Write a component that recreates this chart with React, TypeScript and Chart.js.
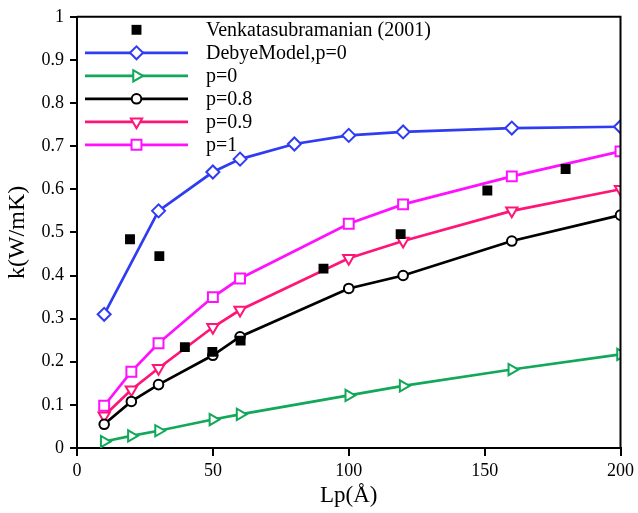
import React, { useEffect, useRef } from 'react';
import { Chart, registerables } from 'chart.js';
import { drawPoint } from 'chart.js/helpers';

Chart.register(...registerables);

const FONT = '"Liberation Serif", "Times New Roman", serif';

const xDebye = [10, 30, 50, 60, 80, 100, 120, 160, 200];
const kDebye = [0.31, 0.55, 0.64, 0.67, 0.705, 0.725, 0.733, 0.742, 0.745];

const xModel = [10, 20, 30, 50, 60, 100, 120, 160, 200];
const kP0 = [0.015, 0.028, 0.04, 0.066, 0.078, 0.122, 0.144, 0.182, 0.217];
const kP08 = [0.055, 0.108, 0.147, 0.215, 0.258, 0.37, 0.4, 0.48, 0.54];
const kP09 = [0.075, 0.135, 0.185, 0.28, 0.32, 0.44, 0.48, 0.55, 0.6];
const kP1 = [0.098, 0.177, 0.243, 0.35, 0.393, 0.52, 0.565, 0.63, 0.688];

const xExp = [19.5, 30.3, 39.7, 49.8, 60.2, 90.7, 119.1, 151, 179.8];
const kExp = [0.484, 0.445, 0.234, 0.223, 0.249, 0.416, 0.496, 0.597, 0.647];

const seriesLabels = ['Venkatasubramanian (2001)', 'DebyeModel,p=0', 'p=0', 'p=0.8', 'p=0.9', 'p=1'];
const xTickValues = [0, 50, 100, 150, 200];
const yTickValues = [0, 0.1, 0.2, 0.3, 0.4, 0.5, 0.6, 0.7, 0.8, 0.9, 1];
const yTickLabels = ['0', '0.1', '0.2', '0.3', '0.4', '0.5', '0.6', '0.7', '0.8', '0.9', '1'];

const toPts = (xs: number[], ys: number[]) => xs.map((x, i) => ({ x, y: ys[i] }));

const legendPlugin = {
  id: 'customLegend',
  afterDraw(chart: any) {
    const ctx = chart.ctx;
    const area = chart.chartArea;
    const x0 = area.left + 8;
    const x1 = area.left + 111;
    const xm = (x0 + x1) / 2;
    const xt = area.left + 129;
    const top = area.top + 13;
    const step = 23;
    ctx.save();
    chart.data.datasets.forEach((ds: any, i: number) => {
      const y = top + i * step;
      if (ds.showLine !== false) {
        ctx.strokeStyle = ds.borderColor;
        ctx.lineWidth = ds.borderWidth;
        ctx.beginPath();
        ctx.moveTo(x0, y);
        ctx.lineTo(x1, y);
        ctx.stroke();
      }
      ctx.fillStyle = ds.pointBackgroundColor;
      ctx.strokeStyle = ds.pointBorderColor;
      ctx.lineWidth = ds.pointBorderWidth;
      drawPoint(ctx, { pointStyle: ds.pointStyle, rotation: ds.pointRotation || 0, radius: ds.pointRadius, borderWidth: ds.pointBorderWidth }, xm, y);
      ctx.fillStyle = '#000';
      ctx.font = `20px ${FONT}`;
      ctx.textBaseline = 'middle';
      ctx.textAlign = 'left';
      ctx.fillText(ds.label, xt, y + 1);
    });
    ctx.restore();
  },
};

const framePlugin = {
  id: 'frame',
  afterDatasetsDraw(chart: any) {
    const ctx = chart.ctx;
    const a = chart.chartArea;
    ctx.save();
    ctx.strokeStyle = '#000';
    ctx.lineWidth = 2;
    ctx.beginPath();
    ctx.moveTo(a.left, a.top);
    ctx.lineTo(a.right, a.top);
    ctx.lineTo(a.right, a.bottom);
    ctx.stroke();
    ctx.restore();
  },
};

function lineDs(label: string, data: any[], color: string, style: string, radius: number, rotation = 0) {
  return {
    label,
    data,
    borderColor: color,
    backgroundColor: color,
    borderWidth: 2.7,
    pointStyle: style,
    pointRotation: rotation,
    pointRadius: radius,
    pointBorderColor: color,
    pointBackgroundColor: '#fff',
    pointBorderWidth: 2,
    showLine: true,
    tension: 0,
  };
}

export default function App() {
  const ref = useRef<HTMLCanvasElement | null>(null);
  useEffect(() => {
    if (!ref.current) return;
    const tickFont = { size: 18, family: FONT };
    const chart = new Chart(ref.current, {
      type: 'scatter',
      data: {
        datasets: [
          {
            label: seriesLabels[0],
            data: toPts(xExp, kExp),
            showLine: false,
            pointStyle: 'rect',
            pointRadius: 7,
            pointBorderWidth: 0,
            pointBackgroundColor: '#000',
            pointBorderColor: '#000',
            borderColor: '#000',
            backgroundColor: '#000',
            borderWidth: 0,
          } as any,
          lineDs(seriesLabels[1], toPts(xDebye, kDebye), '#2f3cf2', 'rectRot', 6.5),
          lineDs(seriesLabels[2], toPts(xModel, kP0), '#12a85a', 'triangle', 6.5, 90),
          lineDs(seriesLabels[3], toPts(xModel, kP08), '#000000', 'circle', 4.8),
          lineDs(seriesLabels[4], toPts(xModel, kP09), '#ff1477', 'triangle', 6.5, 180),
          lineDs(seriesLabels[5], toPts(xModel, kP1), '#ff10ff', 'rect', 7),
        ],
      },
      options: {
        animation: false,
        responsive: false,
        maintainAspectRatio: false,
        layout: { padding: { top: 12, right: 14, left: 0, bottom: 0 } },
        plugins: { legend: { display: false }, tooltip: { enabled: false } },
        scales: {
          x: {
            type: 'linear',
            min: 0,
            max: 200,
            afterFit: (s: any) => { s.height = 65; },
            afterBuildTicks: (s: any) => { s.ticks = xTickValues.map((v) => ({ value: v })); },
            grid: { display: true, drawOnChartArea: false, drawTicks: true, tickLength: 8, color: '#000', lineWidth: 2 },
            border: { display: true, color: '#000', width: 2 },
            ticks: { font: tickFont, color: '#000', padding: 4, maxRotation: 0 },
            title: { display: true, text: 'Lp(Å)', font: { size: 23, family: FONT }, color: '#000', padding: { top: 0, bottom: 3 } },
          },
          y: {
            type: 'linear',
            min: 0,
            max: 1,
            afterFit: (s: any) => { s.width = 77; },
            afterBuildTicks: (s: any) => { s.ticks = yTickValues.map((v) => ({ value: v })); },
            grid: { display: true, drawOnChartArea: false, drawTicks: true, tickLength: 7, color: '#000', lineWidth: 2 },
            border: { display: true, color: '#000', width: 2 },
            ticks: {
              font: tickFont,
              color: '#000',
              padding: 6,
              callback: (v: any) => {
                const i = yTickValues.findIndex((t) => Math.abs(t - v) < 1e-6);
                return i >= 0 ? yTickLabels[i] : '';
              },
            },
            title: { display: true, text: 'k(W/mK)', font: { size: 24, family: FONT }, color: '#000', padding: { top: 3, bottom: 0 } },
          },
        },
      } as any,
      plugins: [framePlugin, legendPlugin],
    });
    return () => chart.destroy();
  }, []);
  return (
    <div style={{ position: 'absolute', left: 0, top: 0, width: 638, height: 513, background: '#fff' }}>
      <canvas ref={ref} width={638} height={513} style={{ display: 'block' }} />
    </div>
  );
}
